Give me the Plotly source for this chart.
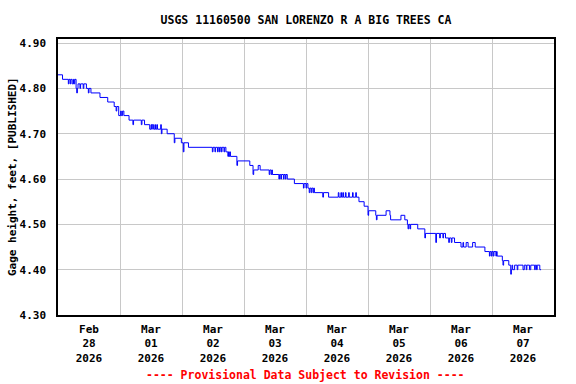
import pandas as pd
import plotly.graph_objects as go

# Hours after 2026-02-28 00:00 at which the reading changes, and the reading (ft)
hours = [0, 1.75, 4.0, 4.25, 4.75, 5.0, 5.5, 6.0, 6.25, 6.5, 7.0, 7.25, 7.5, 7.75, 8.5, 8.75,
         9.75, 10.0, 11.0, 11.75, 12.0, 12.75, 16.25, 19.25, 21.75, 22.5, 22.75, 23.5, 24.25,
         24.5, 25.0, 25.5, 27.5, 29.0, 29.25, 32.25, 32.5, 33.5, 35.5, 36.0, 36.25, 36.5, 37.0,
         37.5, 37.75, 38.25, 38.5, 39.75, 40.0, 40.25, 42.25, 45.0, 45.25, 47.75, 48.5, 48.75,
         50.5, 59.75, 60.0, 60.75, 61.0, 61.75, 62.0, 62.5, 62.75, 63.25, 63.5, 64.25, 64.5,
         65.0, 65.75, 66.0, 66.25, 66.5, 66.75, 69.25, 69.5, 74.25, 75.5, 75.75, 77.5, 78.25,
         81.75, 82.0, 82.5, 82.75, 83.0, 85.5, 85.75, 86.25, 86.5, 87.25, 87.5, 88.0, 88.25,
         88.75, 91.5, 95.0, 95.25, 96.0, 96.25, 96.75, 97.25, 97.5, 98.0, 98.25, 98.75, 99.0,
         99.25, 102.5, 102.75, 104.75, 108.5, 108.75, 109.5, 109.75, 110.25, 110.5, 111.25,
         111.5, 112.5, 112.75, 114.0, 114.25, 115.25, 115.5, 116.5, 118.5, 120.0, 120.25,
         123.0, 123.25, 123.5, 127.0, 128.5, 128.75, 132.75, 134.25, 135.25, 135.5, 135.75,
         136.25, 136.5, 139.25, 142.0, 142.25, 146.25, 146.5, 147.75, 148.0, 149.0, 149.25,
         150.0, 151.25, 151.5, 152.25, 152.5, 153.5, 156.0, 156.75, 157.0, 158.0, 158.75,
         160.5, 161.5, 165.25, 167.0, 167.25, 167.75, 168.0, 168.5, 168.75, 169.5, 169.75,
         170.0, 172.0, 172.25, 172.5, 174.5, 175.25, 175.5, 175.75, 176.0, 176.75, 177.75,
         178.0, 180.0, 180.5, 181.25, 181.5, 182.5, 183.0, 184.5, 184.75, 185.25, 185.5,
         186.5, 187.0]
gage = [4.83, 4.82, 4.81, 4.82, 4.81, 4.82, 4.81, 4.82, 4.81, 4.82, 4.80, 4.79, 4.80, 4.81, 4.80, 4.81,
        4.80, 4.81, 4.80, 4.79, 4.80, 4.79, 4.78, 4.77, 4.76, 4.75, 4.76, 4.74, 4.75,
        4.74, 4.75, 4.74, 4.73, 4.72, 4.73, 4.72, 4.73, 4.72, 4.71, 4.72, 4.71, 4.72, 4.71,
        4.72, 4.71, 4.72, 4.71, 4.72, 4.70, 4.71, 4.70, 4.68, 4.69, 4.68, 4.66, 4.68,
        4.67, 4.66, 4.67, 4.66, 4.67, 4.66, 4.67, 4.66, 4.67, 4.66, 4.67, 4.66, 4.67,
        4.66, 4.65, 4.66, 4.65, 4.66, 4.65, 4.63, 4.64, 4.63, 4.61, 4.62, 4.63, 4.62,
        4.61, 4.62, 4.61, 4.62, 4.61, 4.60, 4.61, 4.60, 4.61, 4.60, 4.61, 4.60, 4.61,
        4.60, 4.59, 4.58, 4.59, 4.58, 4.59, 4.58, 4.57, 4.58, 4.57, 4.58, 4.57, 4.58,
        4.57, 4.56, 4.57, 4.56, 4.57, 4.56, 4.57, 4.56, 4.57, 4.56, 4.57,
        4.56, 4.57, 4.56, 4.57, 4.56, 4.57, 4.56, 4.55, 4.54, 4.52, 4.53,
        4.52, 4.51, 4.52, 4.53, 4.52, 4.51, 4.52, 4.51, 4.50, 4.49, 4.50,
        4.49, 4.50, 4.49, 4.47, 4.48, 4.46, 4.48, 4.47, 4.48, 4.47, 4.48,
        4.47, 4.46, 4.47, 4.46, 4.47, 4.46, 4.45, 4.46, 4.45, 4.46, 4.45,
        4.46, 4.45, 4.44, 4.43, 4.44, 4.43, 4.44, 4.43, 4.44, 4.43, 4.44,
        4.43, 4.42, 4.41, 4.42, 4.41, 4.39, 4.40, 4.41, 4.40, 4.41, 4.40,
        4.41, 4.40, 4.41, 4.40, 4.41, 4.40, 4.41, 4.40, 4.41, 4.40, 4.41,
        4.40, 4.40]

day_starts = ["2026-02-28", "2026-03-01", "2026-03-02", "2026-03-03", "2026-03-04",
              "2026-03-05", "2026-03-06", "2026-03-07", "2026-03-08"]
day_labels = ["Feb<br>28<br>2026", "Mar<br>01<br>2026", "Mar<br>02<br>2026", "Mar<br>03<br>2026",
              "Mar<br>04<br>2026", "Mar<br>05<br>2026", "Mar<br>06<br>2026", "Mar<br>07<br>2026"]
y_ticks = [4.30, 4.40, 4.50, 4.60, 4.70, 4.80, 4.90]

base = pd.Timestamp("2026-02-28 00:00")
times = [base + pd.Timedelta(hours=h) for h in hours]
midnights = [pd.Timestamp(d) for d in day_starts]
noons = [m + pd.Timedelta(hours=12) for m in midnights[:-1]]

FONT = "DejaVu Sans Mono"

fig = go.Figure()
fig.add_trace(go.Scatter(x=times, y=gage, mode="lines", line=dict(color="#0000ff", width=1, shape="hv"),
                         showlegend=False, hoverinfo="x+y"))

fig.update_layout(
    width=576, height=384,
    margin=dict(l=58, r=22, t=39, b=69),
    paper_bgcolor="white", plot_bgcolor="white",
    font=dict(family=FONT, size=11, color="black", weight="bold"),
    title=dict(text="USGS 11160500 SAN LORENZO R A BIG TREES CA", xref="paper", x=0.5, xanchor="center",
               yref="container", y=1 - 20 / 384, yanchor="middle",
               font=dict(family=FONT, size=11.5, color="black", weight="bold")),
    xaxis=dict(range=[midnights[0], midnights[-1]], tickmode="array", tickvals=noons, ticktext=day_labels,
               showgrid=False, showline=True, linecolor="black", linewidth=1.5, mirror=True,
               ticks="", ticklabelstandoff=3, tickfont=dict(family=FONT, size=11, weight="bold"),
               minor=dict(tickmode="array", tickvals=midnights, showgrid=True, gridcolor="#c8c8c8", gridwidth=1,
                          ticks=""),
               zeroline=False),
    yaxis=dict(range=[4.30, 4.909], tickmode="array", tickvals=y_ticks, tickformat=".2f",
               showgrid=True, gridcolor="#c8c8c8", gridwidth=1,
               showline=True, linecolor="black", linewidth=1.5, mirror=True,
               ticks="", ticklabelstandoff=8, tickfont=dict(family=FONT, size=11, weight="bold"),
               zeroline=False),
    annotations=[
        dict(text="Gage height, feet, [PUBLISHED]", xref="paper", yref="paper",
             x=(12 - 58) / 496, y=0.5, textangle=-90, showarrow=False, xanchor="center", yanchor="middle",
             font=dict(family=FONT, size=11, color="black", weight="bold")),
        dict(text="---- Provisional Data Subject to Revision ----", xref="paper", yref="paper",
             x=(305.5 - 58) / 496, y=(315 - 375) / 276, showarrow=False, xanchor="center", yanchor="middle",
             font=dict(family=FONT, size=11.5, color="#ff0000", weight="bold")),
    ],
)

fig.write_html("out.html", config={"displayModeBar": False},
               post_script="document.body.style.margin='0';document.body.style.padding='0';")
